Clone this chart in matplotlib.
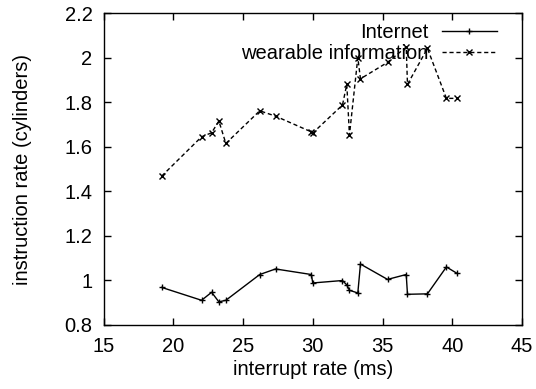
import matplotlib
matplotlib.use("Agg")
from matplotlib import pyplot as plt
from matplotlib.ticker import FuncFormatter

plt.rcParams["font.family"] = ["Liberation Sans", "DejaVu Sans"]
plt.rcParams["font.size"] = 14.5

# interrupt rate (ms), shared by both series
rate = [19.17, 22.03, 22.75, 23.27, 23.77, 26.2, 27.33, 29.9, 30.0, 32.13,
        32.44, 32.63, 33.23, 33.42, 35.36, 36.7, 36.79, 38.22, 39.58, 40.35]
internet = [0.967, 0.909, 0.945, 0.902, 0.909, 1.025, 1.050, 1.025, 0.987, 0.998,
            0.978, 0.954, 0.942, 1.072, 1.003, 1.025, 0.936, 0.938, 1.059, 1.030]
wearable = [1.468, 1.645, 1.663, 1.716, 1.615, 1.762, 1.738, 1.667, 1.662, 1.788,
            1.881, 1.653, 2.001, 1.906, 1.980, 2.049, 1.881, 2.043, 1.818, 1.818]

fig = plt.figure(figsize=(5.36, 3.89), dpi=100)
ax = fig.add_axes([0.1931, 0.1658, 0.7808, 0.7995])

ax.plot(rate, internet, color="black", lw=1, marker="+", ms=5, mew=1,
        label="Internet")
ax.plot(rate, wearable, color="black", lw=1, ls=(0, (3, 2)), marker="x", ms=4,
        mew=1, label="wearable information")

ax.set_xlim(15, 45)
ax.set_ylim(0.8, 2.2)
ax.set_xticks([15, 20, 25, 30, 35, 40, 45])
ax.set_yticks([0.8, 1, 1.2, 1.4, 1.6, 1.8, 2, 2.2])
ax.yaxis.set_major_formatter(FuncFormatter(lambda v, p: "%g" % round(v, 2)))
ax.tick_params(direction="in", length=5, top=True, right=True, width=1)
ax.tick_params(axis="x", pad=9)
ax.tick_params(axis="y", pad=8)
for s in ax.spines.values():
    s.set_linewidth(1)

ax.set_xlabel("interrupt rate (ms)", labelpad=3)
ax.set_ylabel("instruction rate (cylinders)", labelpad=23)

ax.legend(loc="upper right", markerfirst=False, frameon=False, handlelength=2.75,
          handletextpad=0.65, labelspacing=0.12, borderaxespad=0, borderpad=0,
          bbox_to_anchor=(0.940, 0.97))

fig.savefig("out.png", dpi=100)
